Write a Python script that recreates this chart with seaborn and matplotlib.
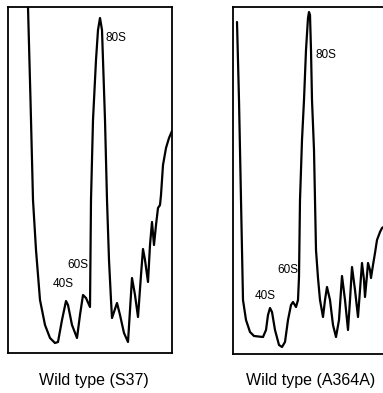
import matplotlib
matplotlib.use("Agg")
import matplotlib.pyplot as plt
import seaborn as sns
import pandas as pd

# Polysome profiles (A254, arbitrary units) vs. gradient position (arbitrary units)
s37_pos = [20, 22.5, 25, 28, 32, 37, 42, 47, 50, 54, 58, 60, 64, 69, 72, 75, 78, 82,
           83, 85, 88, 90, 92, 94, 97, 99, 101, 103, 104, 106, 109, 112, 116, 120,
           122, 124, 127, 130, 133, 135, 137, 140, 142, 144, 146, 148, 150, 152,
           153, 155, 158, 161, 164]
s37_a254 = [346, 253, 153, 103, 53, 28, 15, 10, 11, 33, 52, 48, 28, 15, 38, 58, 55, 46,
            153, 233, 293, 323, 335, 323, 233, 153, 93, 53, 35, 41, 50, 38, 20, 11,
            43, 75, 58, 36, 78, 104, 93, 71, 108, 131, 108, 128, 145, 148,
            158, 188, 205, 215, 222]

a364a_pos = [4, 6, 8, 9, 10, 13, 17, 21, 30, 33, 35, 37, 39, 42, 46, 49, 52, 55, 58,
             60, 63, 65, 66, 67, 69, 71, 73, 75, 76, 77, 78, 79, 81, 82, 83, 85, 87,
             90, 92, 94, 97, 100, 103, 106, 109, 112, 115, 117, 119, 122, 125, 127,
             129, 131, 132, 134, 135, 137, 138, 140, 142, 144, 147, 149, 152]
a364a_a254 = [332, 254, 154, 104, 54, 34, 22, 18, 17, 24, 39, 46, 42, 24, 9, 7, 12, 34, 49,
              52, 47, 54, 77, 154, 214, 254, 304, 336, 342, 339, 304, 254, 204, 154, 104, 76, 54,
              37, 54, 67, 54, 29, 17, 34, 78, 54, 24, 54, 87, 64, 37, 64,
              91, 74, 57, 79, 91, 84, 76, 89, 101, 114, 122, 126, 128]

s37_peaks = ["80S", "60S", "40S"]
s37_peak_x = [97, 59, 45]
s37_peak_y = [315, 88, 69]
a364a_peaks = ["80S", "60S", "40S"]
a364a_peak_x = [83, 44, 22]
a364a_peak_y = [299, 84, 58]

titles = ["Wild type (S37)", "Wild type (A364A)"]

sns.set_style("white")
plt.rcParams["font.family"] = ["Liberation Sans", "DejaVu Sans"]
plt.rcParams["text.color"] = "black"

fig = plt.figure(figsize=(3.83, 3.93), dpi=100)
ax1 = fig.add_axes([8 / 383, 1 - 353 / 393, 164 / 383, 346 / 393])
ax2 = fig.add_axes([233 / 383, 1 - 354 / 393, 164 / 383, 347 / 393])

panels = [
    (ax1, s37_pos, s37_a254, s37_peaks, s37_peak_x, s37_peak_y, 346),
    (ax2, a364a_pos, a364a_a254, a364a_peaks, a364a_peak_x, a364a_peak_y, 347),
]
for ax, pos, a254, peaks, px, py, top in panels:
    df = pd.DataFrame({"pos": pos, "a254": a254})
    sns.lineplot(data=df, x="pos", y="a254", sort=False, color="black",
                 linewidth=1.6, ax=ax)
    for lab, x, y in zip(peaks, px, py):
        ax.text(x, y, lab, fontsize=8.5, ha="left", va="center", color="black")
    ax.set_xlim(0, 164)
    ax.set_ylim(0, top)
    ax.set_xticks([])
    ax.set_yticks([])
    ax.set_xlabel("")
    ax.set_ylabel("")
    for sp in ax.spines.values():
        sp.set_color("black")
        sp.set_linewidth(1.3)

fig.text(94 / 383, 1 - 380 / 393, titles[0], ha="center", va="center",
         fontsize=11.5, color="black")
fig.text(311 / 383, 1 - 380 / 393, titles[1], ha="center", va="center",
         fontsize=11.5, color="black")

fig.savefig("out.png", dpi=100)
